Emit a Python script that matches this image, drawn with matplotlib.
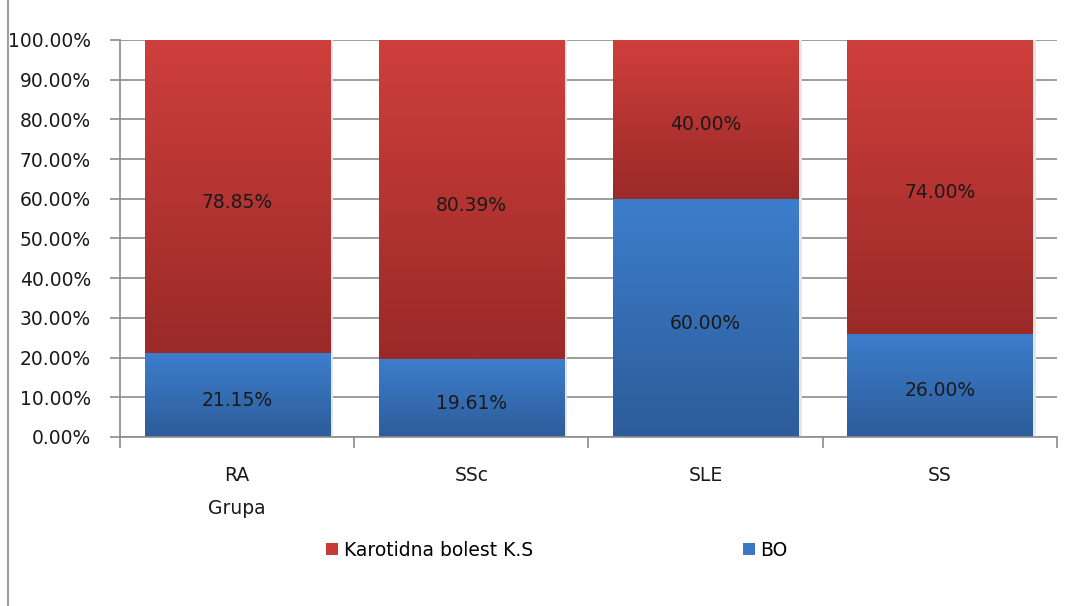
import numpy as np
import matplotlib.pyplot as plt
from matplotlib.colors import LinearSegmentedColormap
from matplotlib.patches import Patch, Rectangle
from matplotlib.lines import Line2D
from matplotlib.ticker import FuncFormatter, MultipleLocator

categories = ['RA', 'SSc', 'SLE', 'SS']
bo = [21.15, 19.61, 60.00, 26.00]
karotidna = [78.85, 80.39, 40.00, 74.00]
series_names = ['Karotidna bolest K.S', 'BO']

# gradient maps: bottom colour -> top colour
red_cmap = LinearSegmentedColormap.from_list('red_grad', ['#9a2a28', '#cf3f3c'])
blue_cmap = LinearSegmentedColormap.from_list('blue_grad', ['#2d5c9a', '#3d7ecc'])

FS = 13.5

fig = plt.figure(figsize=(10.79, 6.06), dpi=100)
ax = fig.add_axes([0.1112, 0.2789, 0.8684, 0.6551])

bar_w = 0.79
x = np.arange(len(categories))
grad = np.linspace(0, 1, 256).reshape(-1, 1)


def grad_bar(xc, y0, h, cmap):
    x0, x1 = xc - bar_w / 2, xc + bar_w / 2
    # soft shadow on the right edge
    ax.add_patch(Rectangle((x1, y0), 0.015, h, color='#e6e6e6', lw=0, zorder=1.5))
    ax.imshow(grad, extent=[x0, x1, y0, y0 + h], origin='lower', cmap=cmap,
              aspect='auto', zorder=2, interpolation='bilinear')


for i in range(len(categories)):
    grad_bar(x[i], 0, bo[i], blue_cmap)
    grad_bar(x[i], bo[i], karotidna[i], red_cmap)
    for yc, v in [(bo[i] / 2, bo[i]), (bo[i] + karotidna[i] / 2, karotidna[i])]:
        ax.annotate(f'{v:.2f}%', (x[i], yc), xytext=(0, -4), textcoords='offset points',
                    ha='center', va='center', fontsize=FS, color='#1a1a1a', zorder=3)

ax.set_xlim(-0.5, len(categories) - 0.5)
ax.set_ylim(0, 100)
ax.yaxis.set_major_locator(MultipleLocator(10))
ax.yaxis.set_major_formatter(FuncFormatter(lambda v, p: f'{v:.2f}%'))
ax.grid(axis='y', color='#8c8c8c', lw=1.2, zorder=1)
ax.set_axisbelow(True)

ax.set_xticks(x)
ax.set_xticklabels(categories)
ax.set_xticks(np.arange(-0.5, len(categories)), minor=True)
ax.tick_params(axis='x', which='major', length=0, pad=21, labelsize=FS, labelcolor='#1a1a1a')
ax.tick_params(axis='x', which='minor', length=8, width=1.2, color='#8c8c8c', direction='out')
ax.tick_params(axis='y', length=7, width=1.2, color='#8c8c8c', labelsize=FS,
               labelcolor='#1a1a1a', pad=14)

for s in ['top', 'right']:
    ax.spines[s].set_visible(False)
for s in ['left', 'bottom']:
    ax.spines[s].set_color('#8c8c8c')
    ax.spines[s].set_linewidth(1.2)

ax.set_xlabel('Grupa', fontsize=FS, color='#1a1a1a')
ax.xaxis.set_label_coords(0.125, -0.155)

handles = [Patch(facecolor='#c73b38', edgecolor='none'),
           Patch(facecolor='#3a78c4', edgecolor='none')]
fig.legend(handles, series_names, loc='center', bbox_to_anchor=(0.516, 0.092),
           ncol=2, frameon=False, fontsize=FS, handlelength=0.65, handleheight=0.65,
           handletextpad=0.3, columnspacing=11.2)

# outer chart frame edge on the left
fig.add_artist(Line2D([8 / 1079, 8 / 1079], [0, 1], color='#8c8c8c', lw=1.2))

fig.savefig('out.png', dpi=100)
